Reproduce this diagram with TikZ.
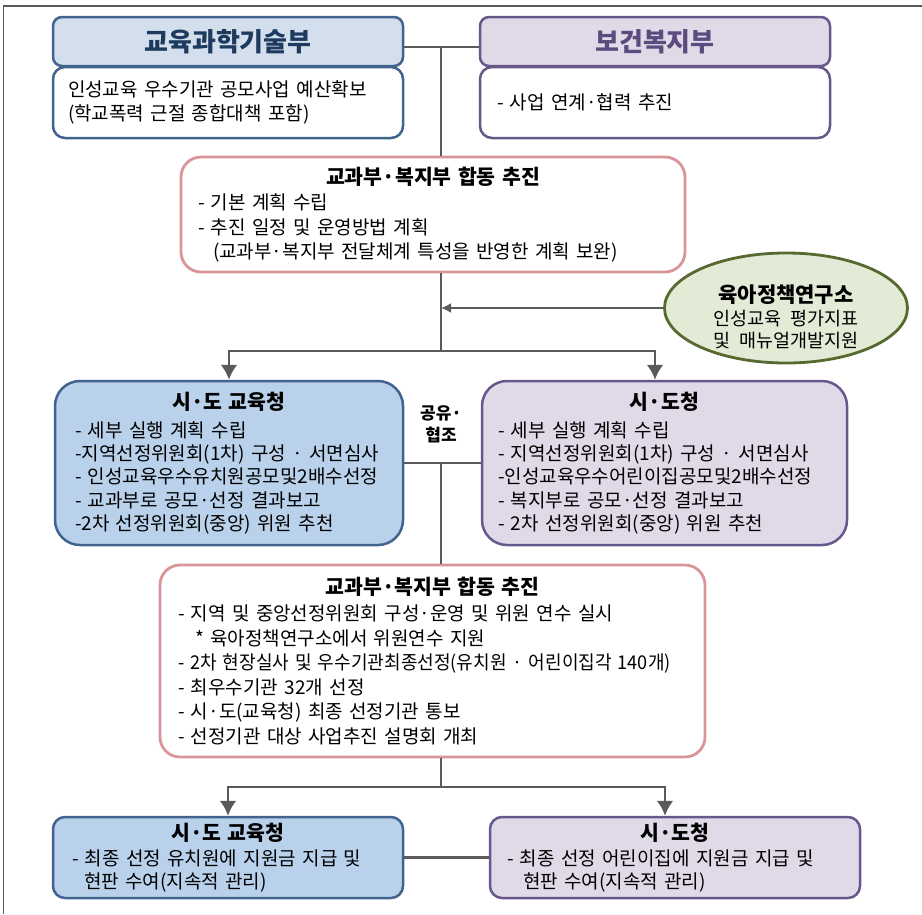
\documentclass[tikz,border=0pt]{standalone}
\usepackage{fontspec}
\setmainfont{Noto Sans CJK KR}[WordSpace=2]
\usetikzlibrary{calc}
\usetikzlibrary{shapes.geometric}
\usetikzlibrary{arrows.meta}
\definecolor{eduline}{HTML}{41648F}
\definecolor{eduhead}{HTML}{D3DFEC}
\definecolor{edufill}{HTML}{B9D1EA}
\definecolor{eduword}{HTML}{1F3A5F}
\definecolor{welline}{HTML}{67588B}
\definecolor{welhead}{HTML}{E0DAE8}
\definecolor{welfill}{HTML}{E0DAE8}
\definecolor{welword}{HTML}{5C4B7E}
\definecolor{pinkline}{HTML}{D9959A}
\definecolor{kiline}{HTML}{56692E}
\definecolor{kifill}{HTML}{E3EAD6}
\definecolor{linegray}{HTML}{5A5A5A}
\newcommand{\boxtitle}[2][3pt]{{\centering\fontsize{20.5}{24}\selectfont\bfseries #2\par}\vspace{#1}}

\begin{document}
\begin{tikzpicture}[x=1pt,y=-1pt,font=\fontsize{19}{24.5}\selectfont,
	head/.style={draw,line width=2.5pt,rounded corners=9pt,minimum width=350pt,minimum height=49pt,font=\fontsize{26}{28}\selectfont\bfseries},
	note/.style={draw,fill=white,line width=2.5pt,rounded corners=12pt,align=left},
	pinkbox/.style={draw=pinkline,fill=white,line width=2.8pt,rounded corners=20pt,align=left},
	wire/.style={draw=linegray,line width=2.4pt},
	flow/.style={draw=linegray,line width=2.8pt,-{Latex[length=15pt,width=17pt]}}]
	\useasboundingbox (0,0) rectangle (922,914);
	\draw[linegray,line width=1.8pt] (3.5,914) -- (3.5,6) -- (922,6);

	\node[head,fill=eduhead,draw=eduline,text=eduword] (moeH) at (228,41.5) {교육과학기술부};
	\node[note,draw=eduline,text width=320pt,inner xsep=15pt,minimum height=71pt] (moeB) at (228,102.5) {인성교육 우수기관 공모사업 예산확보\\(학교폭력 근절 종합대책 포함)};
	\node[head,fill=welhead,draw=welline,text=welword] (mohwH) at (655,41.5) {보건복지부};
	\node[note,draw=welline,text width=316pt,inner xsep=17pt,minimum height=71pt] (mohwB) at (655,102.5) {- 사업 연계·협력 추진};

	\node[pinkbox,text width=470pt,inner xsep=17pt,minimum height=115pt] (plan1) at (433,214.5) {\boxtitle[1pt]{교과부·복지부 합동 추진}- 기본 계획 수립\\- 추진 일정 및 운영방법 계획\\\hspace*{15pt}(교과부·복지부 전달체계 특성을 반영한 계획 보완)};

	\node[ellipse,draw=kiline,fill=kifill,line width=2.8pt,minimum width=243pt,minimum height=110pt,inner sep=0pt,
		label={[yshift=-9pt,align=center,font=\fontsize{18.5}{22.5}\selectfont]center:{{\fontsize{21}{22}\selectfont\bfseries 육아정책연구소}\\인성교육 평가지표\\및 매뉴얼개발지원}}] (kicce) at (786,308) {};

	\node[note,fill=edufill,draw=eduline,rounded corners=25pt,text width=308pt,inner xsep=20pt,minimum height=164pt,font=\fontsize{19}{23.2}\selectfont] (edu1) at (229,463) {\boxtitle[5pt]{시·도 교육청}- 세부 실행 계획 수립\\-지역선정위원회(1차) 구성 · 서면심사\\- 인성교육우수유치원공모및2배수선정\\- 교과부로 공모·선정 결과보고\\-2차 선정위원회(중앙) 위원 추천};
	\node[note,fill=welfill,draw=welline,rounded corners=25pt,text width=333pt,inner xsep=16pt,minimum height=164pt,font=\fontsize{19}{23.2}\selectfont] (city1) at (664.5,463) {\boxtitle[5pt]{시·도청}- 세부 실행 계획 수립\\- 지역선정위원회(1차) 구성 · 서면심사\\-인성교육우수어린이집공모및2배수선정\\- 복지부로 공모·선정 결과보고\\- 2차 선정위원회(중앙) 위원 추천};
	\node[font=\fontsize{17}{22}\selectfont\bfseries,align=center] (share) at (441,424) {공유·\\협조};

	\node[pinkbox,text width=509pt,inner xsep=18pt,minimum height=192pt] (plan2) at (432.5,661) {\boxtitle[2pt]{교과부·복지부 합동 추진}- 지역 및 중앙선정위원회 구성·운영 및 위원 연수 실시\\\hspace*{17pt}* 육아정책연구소에서 위원연수 지원\\\scalebox{0.95}[1]{- 2차 현장실사 및 우수기관최종선정(유치원 · 어린이집각 140개)}\\- 최우수기관 32개 선정\\- 시·도(교육청) 최종 선정기관 통보\\- 선정기관 대상 사업추진 설명회 개최};

	\node[note,fill=edufill,draw=eduline,text width=312pt,inner xsep=19pt,minimum height=81pt,font=\fontsize{19}{23}\selectfont] (edu2) at (228,857.5) {\boxtitle[2pt]{시·도 교육청}- 최종 선정 유치원에 지원금 지급 및\\\hspace*{12pt}현판 수여(지속적 관리)};
	\node[note,fill=welfill,draw=welline,text width=336pt,inner xsep=17pt,minimum height=81pt,font=\fontsize{19}{23}\selectfont] (city2) at (675,857.5) {\boxtitle[2pt]{시·도청}- 최종 선정 어린이집에 지원금 지급 및\\\hspace*{16pt}현판 수여(지속적 관리)};

	\coordinate (hub) at (441,47);
	\coordinate (fork1) at (441,351);
	\coordinate (fork2) at (441,787);
	\draw[wire] ([yshift=-5.5pt]moeH.east) -- ([yshift=-5.5pt]mohwH.west);
	\draw[wire] (hub) -- (hub |- plan1.north);
	\draw[wire] (hub |- plan1.south) -- (fork1);
	\draw[flow] (fork1) -| (edu1.north);
	\draw[flow] (fork1) -| ([xshift=-9.5pt]city1.north);
	\draw[wire,-{Latex[length=10pt,width=10pt]}] (kicce.west) -- (kicce.west -| fork1);
	\draw[wire] (edu1.east) -- (city1.west);
	\draw[wire] (hub |- edu1.east) -- (hub |- plan2.north);
	\draw[wire] (hub |- plan2.south) -- (fork2);
	\draw[flow] (fork2) -| (edu2.north);
	\draw[flow] (fork2) -| ([xshift=-10pt]city2.north);
	\draw[wire] (edu2) -- (city2);
\end{tikzpicture}
\end{document}
